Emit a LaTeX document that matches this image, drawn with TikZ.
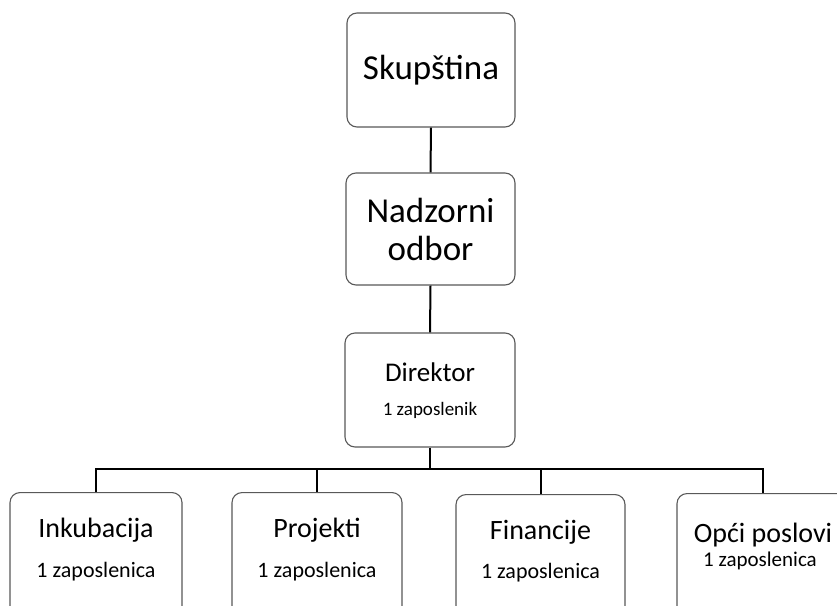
\documentclass[tikz,border=0pt]{standalone}
\usepackage{fontspec}
\setmainfont{Carlito}
\begin{document}
\begin{tikzpicture}[x=1pt,y=-1pt,
  box/.style={draw=black!65, line width=1.1pt, rounded corners=10pt, fill=white, inner sep=0pt},
  big/.style={font=\fontsize{35}{38}\selectfont, align=center},
  head/.style={font=\fontsize{28}{30}\selectfont, inner sep=0pt},
  sub/.style={font=\fontsize{22}{24}\selectfont, inner sep=0pt},
  conn/.style={draw=black, line width=2pt}]
\useasboundingbox (0,0) rectangle (837,605);
\clip (0,0) rectangle (837,605);
\fill[white] (0,0) rectangle (837,605);
% top levels
\node[box, big, minimum width=168pt, minimum height=114pt] (skup) at (431,70) {Skupština};
\node[box, big, minimum width=169pt, minimum height=112pt] (nadz) at (430.5,229) {Nadzorni\\odbor};
\node[box, minimum width=170pt, minimum height=114pt] (dir) at (430,390) {};
\node[head, font=\fontsize{27}{30}\selectfont] (dirt) at (430,372) {Direktor};
\node[sub, font=\fontsize{19}{22}\selectfont] (dirs) at (430,410) {1 zaposlenik};
% bottom boxes (cut at the lower edge)
\node[box, minimum width=172pt, minimum height=160pt, anchor=north] (ink) at (96,492) {};
\node[box, minimum width=170pt, minimum height=160pt, anchor=north] (proj) at (317,492) {};
\node[box, minimum width=169pt, minimum height=160pt, anchor=north] (fin) at (540.5,494) {};
\node[box, minimum width=172pt, minimum height=160pt, anchor=north] (opc) at (763,493) {};
\node[head] (inkt) at (96,530) {Inkubacija};
\node[sub] (inks) at (96,572) {1 zaposlenica};
\node[head] (projt) at (317,530) {Projekti};
\node[sub] (projs) at (317,572) {1 zaposlenica};
\node[head] (fint) at (540.5,532) {Financije};
\node[sub] (fins) at (540.5,573) {1 zaposlenica};
\node[head] (opct) at (763,535) {Opći poslovi};
\node[sub, font=\fontsize{21}{24}\selectfont] (opcs) at (760,561) {1 zaposlenica};
% connectors
\coordinate (bus) at (430,469);
\draw[conn] (skup.south) -- (nadz.north);
\draw[conn] (nadz.south) -- (dir.north);
\draw[conn] (dir.south) -- (bus);
\draw[conn] (ink.north) |- (bus) -| (opc.north);
\draw[conn] (proj.north) -- (proj.north |- bus);
\draw[conn] (fin.north) -- (fin.north |- bus);
\end{tikzpicture}
\end{document}
